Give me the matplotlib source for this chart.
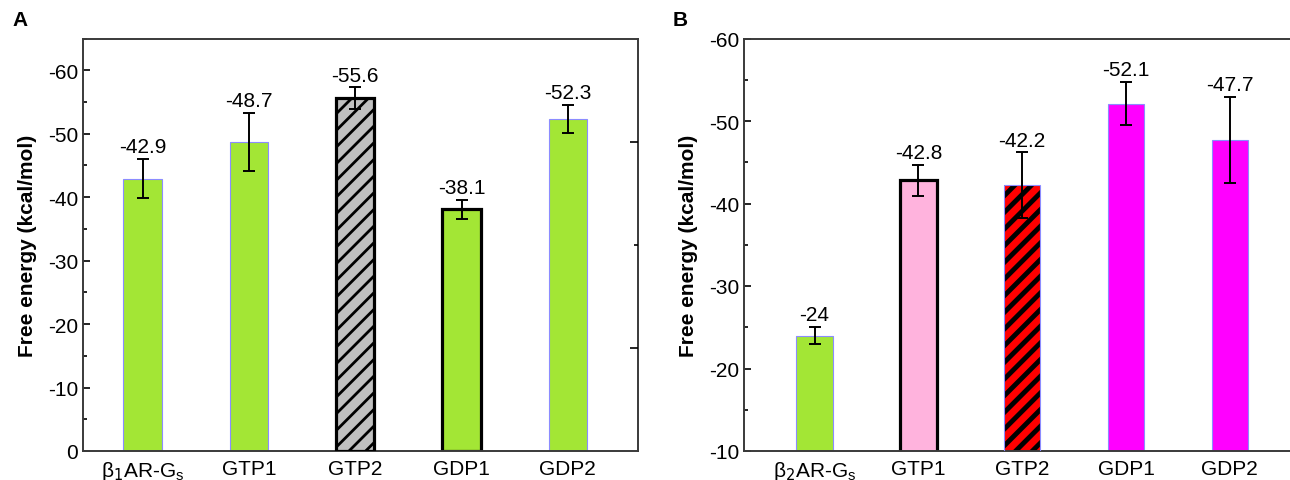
import numpy as np
import matplotlib.pyplot as plt
from matplotlib.ticker import MultipleLocator

plt.rcParams['font.family'] = ['Liberation Sans', 'DejaVu Sans']
plt.rcParams['axes.unicode_minus'] = False  # 用普通连字符作负号

# 数据
labels_a = [r'β$_1$AR-G$_\mathregular{s}$', 'GTP1', 'GTP2', 'GDP1', 'GDP2']
vals_a = [-42.9, -48.7, -55.6, -38.1, -52.3]
err_a = [3.1, 4.6, 1.7, 1.5, 2.2]

labels_b = [r'β$_2$AR-G$_\mathregular{s}$', 'GTP1', 'GTP2', 'GDP1', 'GDP2']
vals_b = [-24, -42.8, -42.2, -52.1, -47.7]
err_b = [1.0, 1.9, 4.0, 2.6, 5.2]

# 样式
green = '#a3e635'
thin_edge = '#8c8cff'
fill_a = [green, green, '#c0c0c0', green, green]
edge_a = [thin_edge, thin_edge, 'black', 'black', thin_edge]
lw_a = [0.8, 0.8, 2.3, 2.3, 0.8]
hatch_a = [None, None, '//', None, None]

fill_b = [green, '#ffb3dd', '#ff0000', '#ff00ff', '#ff00ff']
edge_b = [thin_edge, 'black', thin_edge, thin_edge, thin_edge]
lw_b = [0.8, 2.3, 0.8, 0.8, 0.8]
hatch_b = [None, None, '//', None, None]

fs = 15

fig = plt.figure(figsize=(12.9, 4.81), dpi=100)
ax_a = fig.add_axes([83 / 1290, 29 / 481, 555 / 1290, 412.5 / 481])
ax_b = fig.add_axes([744 / 1290, 29 / 481, 546 / 1290, 412.5 / 481])


def draw_panel(ax, vals, errs, labels, fills, edges, lws, hatches, hatch_lw, width):
    x = np.arange(1, len(vals) + 1)
    for i in range(len(vals)):
        if hatches[i]:
            # 先画填充+黑色阴影线，再画边框
            with plt.rc_context({'hatch.linewidth': hatch_lw, 'hatch.color': 'black'}):
                ax.bar(x[i], vals[i], width, color=fills[i], edgecolor='black',
                       linewidth=0, hatch=hatches[i], zorder=2)
            ax.bar(x[i], vals[i], width, facecolor='none', edgecolor=edges[i],
                   linewidth=lws[i], zorder=3)
        else:
            ax.bar(x[i], vals[i], width, color=fills[i], edgecolor=edges[i],
                   linewidth=lws[i], zorder=2)
    ax.errorbar(x, vals, yerr=errs, fmt='none', ecolor='black', elinewidth=1.4,
                capsize=4, capthick=1.4, zorder=4)
    for xi, v, e in zip(x, vals, errs):
        ax.annotate('%g' % v, (xi, v - e), xytext=(0, 2), textcoords='offset points',
                    ha='center', va='bottom', fontsize=fs)
    ax.set_xticks(x)
    ax.set_xticklabels(labels, fontsize=fs)
    ax.tick_params(axis='x', length=0, pad=6)
    ax.tick_params(axis='y', which='both', direction='in', labelsize=fs)
    ax.tick_params(axis='y', which='major', length=5, width=1.2)
    ax.tick_params(axis='y', which='minor', length=3, width=1.2)
    ax.yaxis.set_minor_locator(MultipleLocator(5))
    ax.set_ylabel('Free energy (kcal/mol)', fontsize=fs, fontweight='bold')
    for s in ax.spines.values():
        s.set_color('#3a3a3a')
        s.set_linewidth(1.4)


draw_panel(ax_a, vals_a, err_a, labels_a, fill_a, edge_a, lw_a, hatch_a, 2.0, 0.36)
ax_a.set_xlim(0.44, 5.66)
ax_a.set_ylim(0, -65)
ax_a.set_yticks(np.arange(0, -61, -10))
ax_a.yaxis.labelpad = 8

# 右侧多余的刻度
ax_r = ax_a.twinx()
ax_r.set_ylim(0, 1)
ax_r.set_yticks([0.25, 0.75])
ax_r.set_yticks([0.5], minor=True)
ax_r.tick_params(axis='y', which='both', direction='in', labelright=False, width=1.2)
ax_r.tick_params(axis='y', which='major', length=6)
ax_r.tick_params(axis='y', which='minor', length=3)
for s in ax_r.spines.values():
    s.set_visible(False)

draw_panel(ax_b, vals_b, err_b, labels_b, fill_b, edge_b, lw_b, hatch_b, 3.5, 0.35)
ax_b.set_xlim(0.32, 5.58)
ax_b.set_ylim(-10, -60)
ax_b.set_yticks(np.arange(-10, -61, -10))
ax_b.spines['right'].set_visible(False)
ax_b.yaxis.labelpad = 8

fig.text(12 / 1290, 1 - 20 / 481, 'A', fontsize=15, fontweight='bold', va='center')
fig.text(673 / 1290, 1 - 20 / 481, 'B', fontsize=15, fontweight='bold', va='center')

fig.savefig('out.png', dpi=100)
